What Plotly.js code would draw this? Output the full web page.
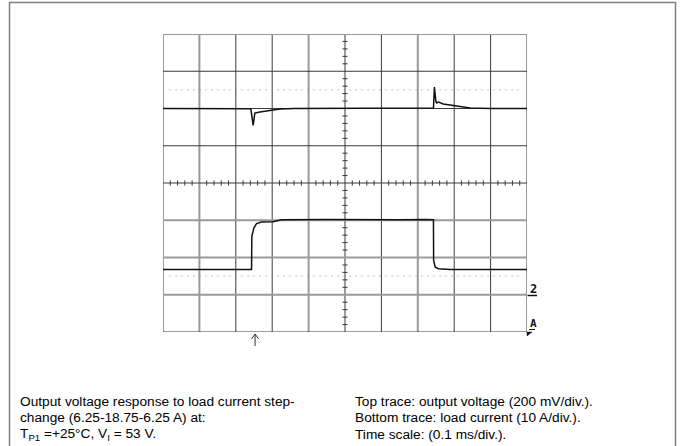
<!DOCTYPE html>
<html>
<head>
<meta charset="utf-8">
<script src="https://cdn.plot.ly/plotly-3.0.1.min.js"></script>
<style>
  html, body { margin: 0; padding: 0; background: #fff; }
  #chart { width: 680px; height: 446px; }
</style>
</head>
<body>
<div id="chart"></div>
<script>
// ---- Data (screen divisions: x 0..10, y -4..4) ----
// Top trace: output voltage (200 mV/div)
const voltageTime = [0, 1.0, 2.0, 2.413, 2.477, 2.523, 2.661, 2.936, 3.211, 3.6, 5.0, 6.5, 7.43, 7.457, 7.496, 7.523, 7.567, 7.70, 8.07, 8.30, 8.44, 9.0, 10];
const voltageDiv  = [2.0, 2.0, 2.0, 1.99, 1.546, 1.879, 1.906, 1.949, 1.987, 2.0, 2.0, 2.0, 2.013, 2.577, 2.19, 2.148, 2.175, 2.12, 2.075, 2.04, 2.013, 2.0, 2.0];

// Bottom trace: load current (10 A/div)
const currentTime = [0, 2.433, 2.44, 2.496, 2.57, 2.708, 3.027, 3.12, 3.258, 4.5, 5.5, 6.5, 7.2, 7.43, 7.435, 7.477, 7.567, 7.889, 10];
const currentDiv  = [-2.32, -2.32, -1.43, -1.21, -1.09, -1.047, -1.04, -1.02, -0.985, -0.98, -0.99, -0.985, -0.98, -0.985, -2.078, -2.255, -2.30, -2.32, -2.32];

// Ground reference levels (dotted)
const groundLevels = [2.5, -2.5];
// Trigger position (divisions)
const triggerTime = 2.53;

// Caption text
const captionLeft = [
  "Output voltage response to load current step-",
  "change (6.25-18.75-6.25 A) at:",
  "T<sub>P1</sub> =+25°C, V<sub>I</sub> = 53 V."
];
const captionRight = [
  "Top trace: output voltage (200 mV/div.).",
  "Bottom trace: load current (10 A/div.).",
  "Time scale: (0.1 ms/div.)."
];

// Grid line styles (d = dark, g = grey)
const vGridStyle = ['d','g','d','d','g','d','d','g','d','d','g'];   // x = 0..10
const hGridStyle = ['g','d','d','d','d','g','g','g','d'];           // y = 4..-4

// ---- Layout helpers ----
const W = 680, H = 446;
const M = {l: 163, r: 153, t: 34, b: 114};
const plotH = H - M.t - M.b;
function pyToPaper(py) { return (H - M.b - py) / plotH; }
const plotW = W - M.l - M.r;
function pxToPaper(px) { return (px - M.l) / plotW; }

const shapes = [];
const DARK = {color: '#3a3a3a', width: 1};
const GREY = {color: '#9a9a9a', width: 2};

for (let i = 0; i <= 10; i++) {
  shapes.push({type: 'line', xref: 'x', yref: 'y', x0: i, x1: i, y0: -4, y1: 4,
    line: vGridStyle[i] === 'd' ? DARK : GREY, layer: 'below'});
}
for (let j = 0; j <= 8; j++) {
  const y = 4 - j;
  shapes.push({type: 'line', xref: 'x', yref: 'y', x0: 0, x1: 10, y0: y, y1: y,
    line: hGridStyle[j] === 'd' ? DARK : GREY, layer: 'below'});
}
// minor ticks on the centre lines
for (let k = 1; k < 50; k++) {
  if (k % 5 === 0) continue;
  const x = k * 0.2;
  shapes.push({type: 'line', xref: 'x', yref: 'y', x0: x, x1: x, y0: -0.07, y1: 0.07,
    line: {color: '#3a3a3a', width: 1}, layer: 'below'});
}
for (let k = 1; k < 40; k++) {
  if (k % 5 === 0) continue;
  const y = -4 + k * 0.2;
  shapes.push({type: 'line', xref: 'x', yref: 'y', x0: 4.93, x1: 5.07, y0: y, y1: y,
    line: {color: '#3a3a3a', width: 1}, layer: 'below'});
}
// ground reference dotted lines
groundLevels.forEach(g => {
  shapes.push({type: 'line', xref: 'x', yref: 'y', x0: 0.18, x1: 9.85, y0: g, y1: g,
    line: {color: '#8a8a8a', width: 1, dash: '1px,5px'}, layer: 'below'});
});
// outer frame (open at bottom)
shapes.push({type: 'path', xref: 'paper', yref: 'paper',
  path: `M ${pxToPaper(9.5)} ${pyToPaper(460)} L ${pxToPaper(9.5)} ${pyToPaper(2.5)} L ${pxToPaper(675.5)} ${pyToPaper(2.5)} L ${pxToPaper(675.5)} ${pyToPaper(460)}`,
  line: {color: '#808080', width: 1.5}});
// trigger arrow
const tx = triggerTime / 10;
const ax = (px) => tx + px / plotW;
shapes.push({type: 'path', xref: 'paper', yref: 'paper',
  path: `M ${tx} ${pyToPaper(346)} L ${tx} ${pyToPaper(334)} M ${ax(-3.5)} ${pyToPaper(339)} L ${tx} ${pyToPaper(334)} L ${ax(3.5)} ${pyToPaper(339)}`,
  line: {color: '#333', width: 1}});
// channel markers: underline under "2", underline + triangle under "A"
shapes.push({type: 'line', xref: 'paper', yref: 'paper',
  x0: pxToPaper(527.5), x1: pxToPaper(537), y0: pyToPaper(295.5), y1: pyToPaper(295.5),
  line: {color: '#111', width: 1.5}});
shapes.push({type: 'line', xref: 'paper', yref: 'paper',
  x0: pxToPaper(529), x1: pxToPaper(535), y0: pyToPaper(329.5), y1: pyToPaper(329.5),
  line: {color: '#111', width: 1}});
shapes.push({type: 'path', xref: 'paper', yref: 'paper',
  path: `M ${pxToPaper(527)} ${pyToPaper(332)} L ${pxToPaper(532)} ${pyToPaper(332)} L ${pxToPaper(527)} ${pyToPaper(336)} Z`,
  fillcolor: '#111', line: {color: '#111', width: 0.5}});

const annotations = [];
const capFont = {family: 'Liberation Sans, Arial, sans-serif', size: 13.7, color: '#000'};
const lineY = [401.5, 417.7, 434];
captionLeft.forEach((t, i) => annotations.push({
  xref: 'paper', yref: 'paper', x: pxToPaper(18.5), y: pyToPaper(lineY[i]),
  xanchor: 'left', yanchor: 'middle', text: t, showarrow: false, font: capFont, borderpad: 0}));
captionRight.forEach((t, i) => annotations.push({
  xref: 'paper', yref: 'paper', x: pxToPaper(353.5), y: pyToPaper(lineY[i]),
  xanchor: 'left', yanchor: 'middle', text: t, showarrow: false, font: capFont, borderpad: 0}));
annotations.push({xref: 'paper', yref: 'paper', x: pxToPaper(529), y: pyToPaper(288.5),
  xanchor: 'left', yanchor: 'middle', text: '<b>2</b>', showarrow: false, borderpad: 0,
  font: {family: 'DejaVu Sans Mono, monospace', size: 12, color: '#111'}});
annotations.push({xref: 'paper', yref: 'paper', x: pxToPaper(529), y: pyToPaper(323),
  xanchor: 'left', yanchor: 'middle', text: '<b>A</b>', showarrow: false, borderpad: 0,
  font: {family: 'DejaVu Sans Mono, monospace', size: 11, color: '#111'}});

const traces = [
  {x: voltageTime, y: voltageDiv, type: 'scatter', mode: 'lines',
   line: {color: '#111', width: 1.5}, hoverinfo: 'skip'},
  {x: currentTime, y: currentDiv, type: 'scatter', mode: 'lines',
   line: {color: '#111', width: 1.5}, hoverinfo: 'skip'}
];

const layout = {
  width: W, height: H,
  margin: M,
  paper_bgcolor: '#fff', plot_bgcolor: '#fff',
  showlegend: false,
  xaxis: {range: [0, 10], showgrid: false, zeroline: false, showticklabels: false, showline: false, ticks: '', fixedrange: true},
  yaxis: {range: [-4, 4], showgrid: false, zeroline: false, showticklabels: false, showline: false, ticks: '', fixedrange: true},
  shapes: shapes,
  annotations: annotations
};

Plotly.newPlot('chart', traces, layout, {staticPlot: true, displayModeBar: false});
</script>
</body>
</html>
